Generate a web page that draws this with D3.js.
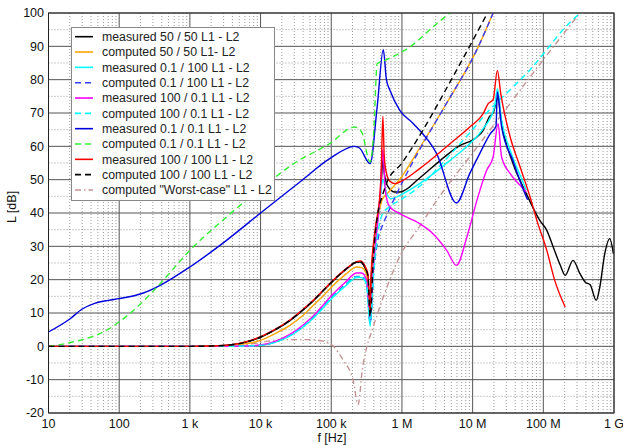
<!DOCTYPE html>
<html>
<head>
<meta charset="utf-8">
<script src="https://cdn.jsdelivr.net/npm/d3@7"></script>
<style>
  body { margin: 0; background: #fff; }
  svg { display: block; font-family: "Liberation Sans", Arial, sans-serif; }
</style>
</head>
<body>
<svg width="623" height="445"></svg>
<script>
// [frequency in Hz, level in dB]
const meas5050 = [[10,0],[1000,0],[2000,0.1],[3700,0.4],[6300,1.3],[1e4,2.7],[16000,4.9],[26000,7.7],[40000,10.9],[56000,13.7],[79000,16.9],[107000,19.7],[158000,22.9],[229000,25.2],[257000,25.3],[302000,23.4],[331000,21],[355000,8],[363000,18],[417000,33],[490000,44],[513000,50],[537000,56],[562000,52],[631000,48],[794000,46.3],[933000,46.3],[1.78e6,50.5],[3.5e6,55.8],[6.3e6,60],[1.15e7,62.8],[1.41e7,64.8],[1.74e7,69],[1.95e7,70],[2.14e7,73],[2.29e7,75],[2.45e7,70],[2.82e7,63],[3.7e7,55],[5.75e7,45.8],[8.9e7,37.8],[1.12e8,34.8],[1.38e8,29.8],[1.74e8,24.3],[2.04e8,21.3],[2.63e8,25.8],[3.3e8,21.8],[3.9e8,19.3],[4.6e8,18.5],[5.6e8,13.8],[6.3e8,17.8],[7.4e8,27.8],[8.7e8,32.3],[9.8e8,27.8]];
const comp5050 = [[10,0],[1000,0],[3300,0.2],[6300,0.8],[1e4,1.8],[16000,3.8],[26000,6.3],[40000,9.3],[56000,12.3],[79000,15.4],[107000,18.3],[158000,21.5],[229000,23.8],[269000,23.6],[316000,21.5],[355000,10],[398000,27],[457000,38],[525000,44],[631000,46],[1e6,51],[1.78e6,59.5],[4.3e6,73],[1.15e7,89],[1.95e7,100]];
const meas01100 = [[10,0],[3300,0],[6300,0.1],[1e4,0.3],[16000,1.2],[26000,3.1],[40000,5.8],[56000,8.5],[107000,14.8],[158000,18],[229000,20.6],[269000,20.6],[316000,18.5],[355000,6],[398000,24],[457000,38],[501000,46],[537000,50],[603000,46],[708000,44.3],[933000,45.3],[1.78e6,48.8],[4.8e6,55.8],[9.1e6,60.8],[1.41e7,65.3],[2.04e7,71.8],[2.24e7,77.3],[2.57e7,67.8],[3.4e7,58.8],[4.7e7,51.3],[5.75e7,46.8]];
const comp01100 = [[10,0],[3300,0],[6300,0.1],[1e4,0.3],[16000,1.3],[26000,3.3],[40000,6],[56000,8.8],[107000,15.3],[158000,18.5],[229000,21],[269000,21],[316000,19],[355000,7],[398000,22],[457000,32],[525000,36],[631000,40],[1e6,49],[1.78e6,59],[4.3e6,73],[1.15e7,89],[1.95e7,100]];
const meas10001 = [[10,0],[3300,0],[6300,0.1],[1e4,0.4],[16000,1.5],[26000,3.6],[40000,6.4],[56000,9.2],[107000,15.8],[158000,19.2],[229000,22],[269000,22],[316000,20],[355000,9],[398000,25],[457000,38],[501000,48],[537000,59],[575000,48],[631000,43],[676000,41.8],[933000,39.8],[1.78e6,36.8],[2.75e6,33.8],[4.3e6,28.8],[5.9e6,24.3],[8.3e6,32.8],[1.15e7,43.8],[1.58e7,52.8],[1.95e7,56.8],[2.29e7,66.8],[2.57e7,56.8],[3.4e7,51.8],[4.7e7,48.3],[5.75e7,46.3]];
const comp10001 = [[10,0],[3300,0],[6300,0.1],[1e4,0.3],[16000,1.2],[26000,3.2],[40000,5.9],[56000,8.6],[107000,15],[158000,18.3],[229000,20.8],[269000,20.8],[316000,18.8],[355000,7],[398000,22],[457000,34],[525000,39.5],[631000,41.5],[933000,43.8],[1.78e6,48],[4.8e6,57.5],[9.1e6,64],[1.74e7,71],[3.4e7,77],[6.5e7,83],[1.12e8,89],[1.9e8,95],[3.3e8,100]];
const meas0101 = [[10,4.3],[20,8.2],[30,11.2],[45,12.9],[70,13.8],[100,14.3],[220,16],[380,18.3],[1000,23.8],[3300,31.8],[1e4,40],[36000,49.3],[95000,56.3],[214000,60],[251000,59.5],[355000,54.8],[447000,72],[545000,89],[603000,80],[676000,76.8],[933000,70.8],[1.45e6,66.8],[3.1e6,57.8],[5.9e6,43],[9.1e6,51.8],[1.26e7,57.8],[1.78e7,63.8],[2.14e7,66],[2.24e7,76.3],[2.57e7,65.8],[3.7e7,55.8],[5.5e7,45.8],[6.0e7,44]];
const comp0101 = [[10,0],[22,1.3],[66,4.8],[141,9.8],[380,18.8],[1000,28.8],[3300,38.8],[1e4,47.3],[32000,55.3],[95000,60.8],[214000,65.8],[269000,64.3],[355000,55.3],[398000,64],[447000,84.8],[575000,85.8],[1.29e6,89.8],[3.1e6,96.8],[4.8e6,100]];
const meas100100 = [[10,0],[1000,0],[2000,0.1],[3700,0.4],[6300,1.4],[1e4,2.9],[16000,5.1],[26000,7.9],[40000,11.1],[56000,13.9],[79000,17.1],[107000,19.9],[158000,23.1],[229000,25.4],[257000,25.6],[302000,24],[331000,21.5],[355000,10],[363000,20],[417000,35],[490000,46],[513000,55],[537000,69],[562000,57],[603000,52],[676000,49.5],[794000,48.8],[933000,49.3],[1.78e6,53.3],[4.8e6,60.8],[9.1e6,65.8],[1.41e7,69.8],[1.66e7,72.8],[1.95e7,74],[2.24e7,82.8],[2.5e7,75.8],[3.4e7,62.8],[4.7e7,53.8],[6.5e7,44.8],[8.1e7,37.8],[1.12e8,28.8],[1.45e8,19.8],[2.04e8,11.8]];
const comp100100 = [[10,0],[1000,0],[2000,0.1],[3700,0.4],[6300,1.3],[1e4,2.8],[16000,5],[26000,7.8],[40000,11],[56000,13.8],[79000,17],[107000,19.8],[158000,23],[229000,25.3],[257000,25.4],[302000,23.5],[331000,21],[355000,9],[398000,28],[457000,40],[525000,45],[603000,48.8],[1e6,55],[2e6,65],[4.3e6,77.5],[1.02e7,92],[1.62e7,100]];
const worstCase = [[10,0],[3000,0],[6300,0.5],[12000,1.5],[20000,2],[50000,2],[79000,1.5],[107000,0],[148000,-4.2],[204000,-10.2],[240000,-17.5],[275000,-7],[320000,0],[380000,5],[550000,15],[933000,27],[1.78e6,36],[3.16e6,44],[1e7,58],[3.16e7,72],[1e8,86],[3.3e8,100]];

const xTicks = [1e1,1e2,1e3,1e4,1e5,1e6,1e7,1e8,1e9];
const xTickLabels = ["10","100","1 k","10 k","100 k","1 M","10 M","100 M","1 G"];
const yTicks = [-20,-10,0,10,20,30,40,50,60,70,80,90,100];

const series = [
  { name: "measured 50 / 50 L1 - L2", data: meas5050, color: "#000000", dash: null },
  { name: "computed 50 / 50 L1- L2", data: comp5050, color: "#ffa500", dash: null },
  { name: "measured 0.1 / 100 L1 - L2", data: meas01100, color: "#00ffff", dash: null },
  { name: "computed 0.1 / 100 L1 - L2", data: comp01100, color: "#3a3aff", dash: "6,4" },
  { name: "measured 100 / 0.1 L1 - L2", data: meas10001, color: "#ff00ff", dash: null },
  { name: "computed 100 / 0.1 L1 - L2", data: comp10001, color: "#00ffff", dash: "6,4" },
  { name: "measured 0.1 / 0.1 L1 - L2", data: meas0101, color: "#0000dd", dash: null },
  { name: "computed 0.1 / 0.1 L1 - L2", data: comp0101, color: "#33ee33", dash: "6,4" },
  { name: "measured 100 / 100 L1 - L2", data: meas100100, color: "#ff0000", dash: null },
  { name: "computed 100 / 100 L1 - L2", data: comp100100, color: "#000000", dash: "6,4" },
  { name: "computed \"Worst-case\" L1 - L2", data: worstCase, color: "#c49494", dash: "6,3,1.5,3" }
];

const svg = d3.select("svg");
const pL = 48.5, pR = 614, pT = 13, pB = 413;

const x = d3.scaleLog().domain([10, 1e9]).range([pL, pR]);
const y = d3.scaleLinear().domain([-20, 100]).range([pB, pT]);

svg.append("clipPath").attr("id", "plotclip")
  .append("rect").attr("x", pL).attr("y", pT)
  .attr("width", pR - pL).attr("height", pB - pT);

// minor grid
const minorX = [];
for (let d = 10; d < 1e9; d *= 10) {
  for (let k = 2; k <= 9; k++) minorX.push(d * k);
}
const minorY = d3.range(-15, 100, 10);

const grid = svg.append("g");
grid.append("g").selectAll("line").data(minorX).join("line")
  .attr("x1", d => x(d)).attr("x2", d => x(d))
  .attr("y1", pT).attr("y2", pB)
  .attr("stroke", "#9a9a9a").attr("stroke-dasharray", "1,2");
grid.append("g").selectAll("line").data(minorY).join("line")
  .attr("x1", pL).attr("x2", pR)
  .attr("y1", d => y(d)).attr("y2", d => y(d))
  .attr("stroke", "#9a9a9a").attr("stroke-dasharray", "1,2");

// major grid
grid.append("g").selectAll("line").data(xTicks).join("line")
  .attr("x1", d => x(d)).attr("x2", d => x(d))
  .attr("y1", pT).attr("y2", pB)
  .attr("stroke", "#555");
grid.append("g").selectAll("line").data(yTicks).join("line")
  .attr("x1", pL).attr("x2", pR)
  .attr("y1", d => y(d)).attr("y2", d => y(d))
  .attr("stroke", "#555");

// curves
const line = d3.line()
  .x(d => x(d[0]))
  .y(d => y(d[1]))
  .curve(d3.curveMonotoneX);

const drawOrder = [10, 0, 1, 2, 3, 4, 5, 6, 7, 8, 9];
svg.append("g").attr("clip-path", "url(#plotclip)")
  .selectAll("path")
  .data(drawOrder.map(i => series[i]))
  .join("path")
    .attr("d", d => line(d.data))
    .attr("fill", "none")
    .attr("stroke", d => d.color)
    .attr("stroke-width", 1.4)
    .attr("stroke-dasharray", d => d.dash);

// frame
svg.append("rect")
  .attr("x", pL).attr("y", pT)
  .attr("width", pR - pL).attr("height", pB - pT)
  .attr("fill", "none").attr("stroke", "#222").attr("stroke-width", 1);

// axis labels
svg.append("g").selectAll("text").data(yTicks).join("text")
  .attr("x", 44).attr("y", d => y(d)).attr("dy", "0.35em")
  .attr("text-anchor", "end").attr("font-size", 12.5).attr("fill", "#111")
  .text(d => d);

svg.append("g").selectAll("text").data(xTicks).join("text")
  .attr("x", d => x(d)).attr("y", 428)
  .attr("text-anchor", "middle").attr("font-size", 12.5).attr("fill", "#111")
  .text((d, i) => xTickLabels[i]);

svg.append("text")
  .attr("x", 332).attr("y", 442)
  .attr("text-anchor", "middle").attr("font-size", 12.5).attr("fill", "#111")
  .text("f [Hz]");

svg.append("text")
  .attr("transform", "translate(16,207) rotate(-90)")
  .attr("text-anchor", "middle").attr("font-size", 12.5).attr("fill", "#111")
  .text("L [dB]");

// legend
const legend = svg.append("g");
legend.append("rect")
  .attr("x", 71.5).attr("y", 27.5).attr("width", 203).attr("height", 173)
  .attr("fill", "#fff").attr("stroke", "#888");

const item = legend.selectAll("g").data(series).join("g")
  .attr("transform", (d, i) => `translate(0,${36.7 + i * 15.33})`);
item.append("line")
  .attr("x1", 75).attr("x2", 93)
  .attr("stroke", d => d.color).attr("stroke-width", 1.6)
  .attr("stroke-dasharray", d => d.dash);
item.append("text")
  .attr("x", 102).attr("dy", "0.35em")
  .attr("font-size", 12.3).attr("fill", "#222")
  .text(d => d.name);
</script>
</body>
</html>
